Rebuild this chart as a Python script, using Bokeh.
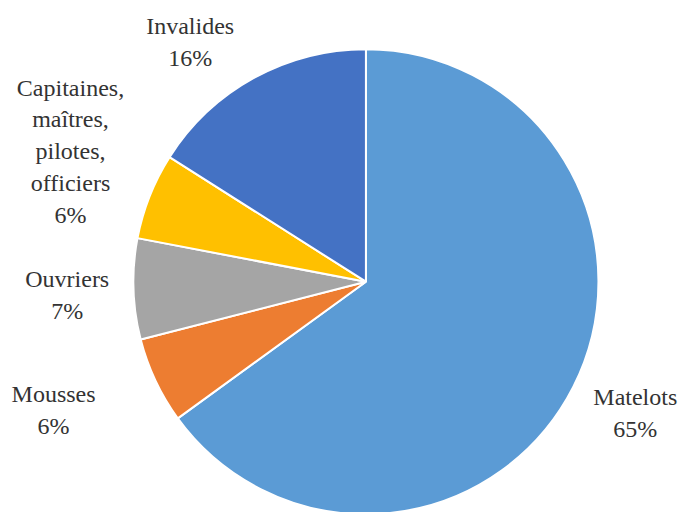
import math
from bokeh.plotting import figure
from bokeh.models import Range1d, ColumnDataSource
from bokeh.core.properties import value
from bokeh.embed import file_html
from bokeh.resources import INLINE

# Data
categories = ["Matelots", "Mousses", "Ouvriers", "Capitaines,\nmaîtres,\npilotes,\nofficiers", "Invalides"]
shares = [65, 6, 7, 6, 16]
colors = ["#5B9BD5", "#ED7D31", "#A5A5A5", "#FFC000", "#4472C4"]

# Layout (label placement around the pie, in degrees / reference pixels)
label_angle_deg = [-26.1, 202.5, 182.5, 156.0, 126.0]
label_radius = [307, 346, 306, 331, 306]

W, H = 681, 512
RW, RH = 697, 528
cx, cy, R = 374, RH - 290, 238

p = figure(width=W, height=H, output_backend="svg", toolbar_location=None,
           x_range=Range1d(0, RW), y_range=Range1d(0, RH),
           min_border=0, outline_line_color=None)
p.axis.visible = False
p.grid.visible = False
p.background_fill_color = "white"

total = sum(shares)
starts, ends = [], []
acc = 0
for s in shares:
    starts.append(math.radians(90 - acc / total * 360))
    acc += s
    ends.append(math.radians(90 - acc / total * 360))

src = ColumnDataSource(dict(start=starts, end=ends, color=colors))
p.wedge(x=cx, y=cy, radius=R, start_angle="start", end_angle="end",
        direction="clock", fill_color="color", line_color="white",
        line_width=2, source=src)

lx = [cx + r * math.cos(math.radians(a)) for a, r in zip(label_angle_deg, label_radius)]
ly = [cy + r * math.sin(math.radians(a)) for a, r in zip(label_angle_deg, label_radius)]
texts = [f"{c}\n{s}%" for c, s in zip(categories, shares)]
p.text(x=lx, y=ly, text=texts, text_align="center", text_baseline="middle",
       text_font=value("Liberation Serif"), text_font_size="24px",
       text_color="#333333", text_line_height=1.22)

open("out.html", "w").write(file_html(p, INLINE))
